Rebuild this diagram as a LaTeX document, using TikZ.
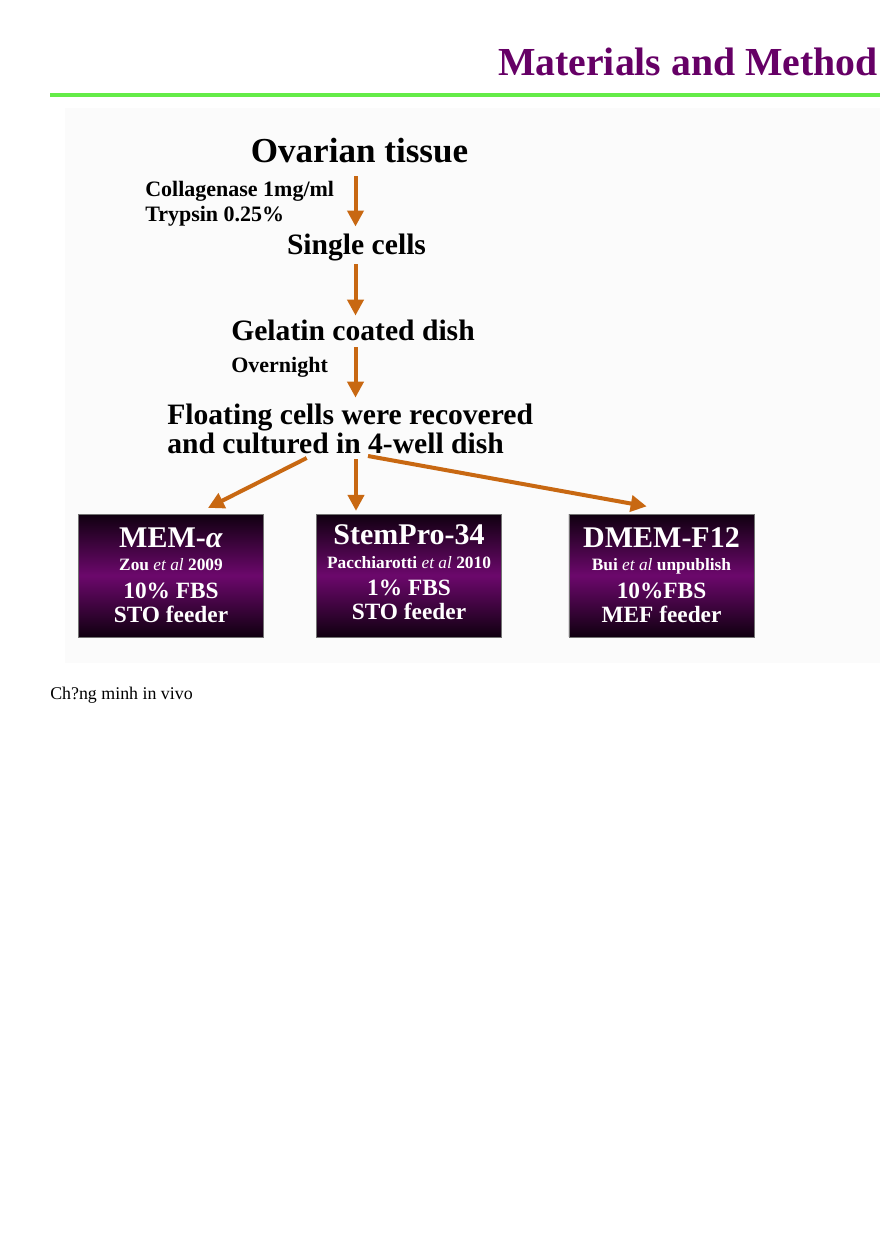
\documentclass[tikz,border=0pt]{standalone}
\usepackage{fontspec}
\setmainfont{Liberation Serif}
\usetikzlibrary{arrows.meta}
\definecolor{flowor}{RGB}{200,104,18}
\definecolor{plum}{RGB}{102,0,102}
\definecolor{boxmid}{RGB}{108,8,108}
\definecolor{boxdark}{RGB}{16,0,16}
\definecolor{rulegreen}{RGB}{100,236,72}

\begin{document}
\begin{tikzpicture}[x=0.75pt,y=-0.75pt,
	flow/.style={draw=flowor,line width=3pt,-{Triangle[width=12pt,length=12pt]}},
	stage/.style={inner sep=0pt,anchor=base,font=\bfseries\fontsize{22.2}{26}\selectfont},
	cond/.style={inner sep=0pt,anchor=base west,font=\bfseries\fontsize{16.5}{20}\selectfont},
	mediumbox/.style={minimum width=139pt,minimum height=92pt,inner sep=0pt,draw=black!55,line width=0.4pt,
		top color=boxdark,bottom color=boxdark,middle color=boxmid},
	boxhead/.style={inner sep=0pt,anchor=base,text=white,font=\bfseries\fontsize{22.5}{26}\selectfont},
	boxref/.style={inner sep=0pt,anchor=base,text=white,font=\bfseries\fontsize{13}{15}\selectfont},
	boxline/.style={inner sep=0pt,anchor=base,text=white,font=\bfseries\fontsize{17.5}{20}\selectfont}]
\useasboundingbox (0,0) rectangle (880,1245);
\fill[black!1.5] (65,108) rectangle (880,663);
% heading
\node (title) [inner sep=0pt,anchor=base east,text=plum,font=\bfseries\fontsize{29.8}{34}\selectfont] at (878,76) {Materials and Method};
\draw[rulegreen,line width=3pt] (50,95) -- (880,95);
% protocol
\coordinate (spine) at (355.5,0);
\node (ovary) [stage,font=\bfseries\fontsize{26.3}{30}\selectfont] at (359.5,162) {Ovarian tissue};
\node (enz1) [cond] at (145,196) {Collagenase 1mg/ml};
\node (enz2) [cond] at (145,221) {Trypsin 0.25\%};
\node (single) [stage] at (356.5,254) {Single cells};
\node (gelatin) [stage] at (353,340) {Gelatin coated dish};
\node (night) [cond] at (231,372) {Overnight};
\node (float1) [stage,anchor=base west] at (167,424) {Floating cells were recovered};
\node (float2) [stage,anchor=base west] at (167,453) {and cultured in 4-well dish};
\draw[flow,shorten <=10pt,shorten >=5pt] (ovary.south -| spine) -- (single.north -| spine);
\draw[flow,shorten <=2.7pt,shorten >=2.7pt] (single.south -| spine) -- (gelatin.north -| spine);
\draw[flow,shorten <=5pt,shorten >=4.2pt] (gelatin.south -| spine) -- (float1.north -| spine);
% culture media
\node (mem) [mediumbox] at (171,575.5) {};
\node (stem) [mediumbox] at (409,575.5) {};
\node (dmem) [mediumbox] at (661.5,575.5) {};
\node (memA) [boxhead] at (171,547) {MEM-\textit{α}};
\node (memB) [boxref] at (171,570) {Zou \textit{\mdseries et al} 2009};
\node (memC) [boxline] at (171,598) {10\% FBS};
\node (memD) [boxline] at (171,622) {STO feeder};
\node (stemA) [boxhead] at (409,544) {StemPro-34};
\node (stemB) [boxref] at (409,568) {Pacchiarotti \textit{\mdseries et al} 2010};
\node (stemC) [boxline] at (409,595) {1\% FBS};
\node (stemD) [boxline] at (409,619) {STO feeder};
\node (dmemA) [boxhead] at (661.5,547) {DMEM-F12};
\node (dmemB) [boxref] at (661.5,570) {Bui \textit{\mdseries et al} unpublish};
\node (dmemC) [boxline] at (661.5,598) {10\%FBS};
\node (dmemD) [boxline] at (661.5,622) {MEF feeder};
\draw[flow] ([shift={(139.7,5)}]float2.base west) -- ([shift={(37,-6)}]mem.north);
\draw[flow] ([shift={(189,6)}]float2.base west) -- ([shift={(-53,-3)}]stem.north);
\draw[flow] ([shift={(201,3)}]float2.base west) -- ([shift={(-14.8,-7.5)}]dmem.north);
% note under the slide
\node (foot) [inner sep=0pt,anchor=base west,font=\fontsize{13.4}{16}\selectfont] at (50,699) {Ch?ng minh in vivo};
\end{tikzpicture}
\end{document}
